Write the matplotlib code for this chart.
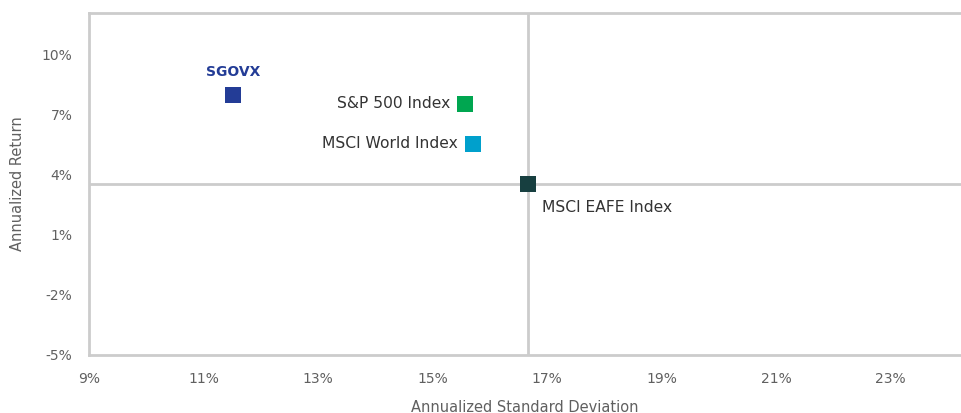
import matplotlib
matplotlib.use("Agg")
import matplotlib.pyplot as plt
from matplotlib.ticker import FuncFormatter

# data
names = ["SGOVX", "S&P 500 Index", "MSCI World Index", "MSCI EAFE Index"]
std_dev = [11.52, 15.57, 15.71, 16.67]
returns = [8.0, 7.55, 5.55, 3.55]
colors = ["#233c96", "#00a650", "#00a0cc", "#173f40"]
x_ticks = [9, 11, 13, 15, 17, 19, 21, 23]
y_ticks = [-5, -2, 1, 4, 7, 10]
cross_x = 16.67
cross_y = 3.55

# label offsets in pixels (dx, dy, ha)
offsets = [(0, 23, "center"), (-15, 0, "right"), (-15, 0, "right"), (14, -24, "left")]

plt.rcParams['font.family'] = ['DejaVu Sans']
grey = "#cccccc"
txt = "#606060"

fig = plt.figure(figsize=(9.61, 4.13), dpi=100)
ax = fig.add_axes([89 / 961, 58 / 413, 872 / 961, 342 / 413])

ax.set_xlim(9, 9 + 872 / 57.25)
ax.set_ylim(-5, 12.1)

ax.axvline(cross_x, color=grey, lw=2, zorder=1)
ax.axhline(cross_y, color=grey, lw=2, zorder=1)

ax.scatter(std_dev, returns, c=colors, marker="s", s=130, zorder=3, linewidths=0)

for i, name in enumerate(names):
    dx, dy, ha = offsets[i]
    bold = name == "SGOVX"
    ax.annotate(name, (std_dev[i], returns[i]), xytext=(dx * 0.72, dy * 0.72),
                textcoords="offset points", ha=ha, va="center",
                fontsize=10 if bold else 11.2,
                fontweight="bold" if bold else "normal",
                color=colors[0] if bold else "#333333", zorder=4)

ax.set_xticks(x_ticks)
ax.set_yticks(y_ticks)
ax.xaxis.set_major_formatter(FuncFormatter(lambda v, p: "%d%%" % v))
ax.yaxis.set_major_formatter(FuncFormatter(lambda v, p: "%d%%" % v))
ax.tick_params(length=0, colors=txt, labelsize=10)
ax.tick_params(axis="x", pad=12)
ax.tick_params(axis="y", pad=12)

for side in ["left", "top", "bottom"]:
    ax.spines[side].set_color(grey)
    ax.spines[side].set_linewidth(2)
ax.spines["right"].set_visible(False)

ax.set_xlabel("Annualized Standard Deviation", color=txt, fontsize=10.5, labelpad=10)
ax.set_ylabel("Annualized Return", color=txt, fontsize=10.5, labelpad=12)

fig.savefig("out.png", dpi=100)
